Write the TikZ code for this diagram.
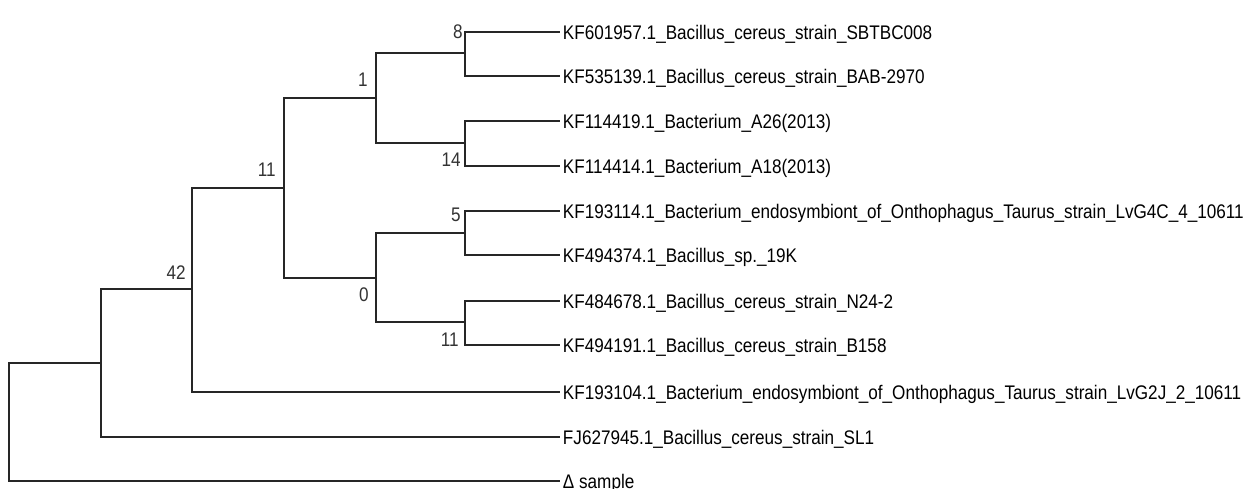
\documentclass[tikz,border=0pt]{standalone}
\usepackage{fontspec}
\newfontfamily\treefont[FakeStretch=0.87]{Liberation Sans}
\tikzset{
  branch/.style={line width=1.1pt, black!85, line join=miter},
  leaf/.style={anchor=west, inner xsep=1.5pt, inner ysep=0pt,
    text height=8pt, text depth=0pt,
    font=\treefont\fontsize{11.2}{13}\selectfont},
  boot/.style={anchor=east, inner sep=0pt, text=black!80,
    text height=8pt, text depth=0pt,
    font=\treefont\fontsize{11.2}{13}\selectfont}
}
\begin{document}
\begin{tikzpicture}[x=0.02cm,y=-0.02cm]
    \useasboundingbox (0,0) rectangle (1251,488);
    % leaves
    \node[leaf] (kf601957) at (560,32) {KF601957.1\_Bacillus\_cereus\_strain\_SBTBC008};
    \node[leaf] (kf535139) at (560,76) {KF535139.1\_Bacillus\_cereus\_strain\_BAB-2970};
    \node[leaf] (kf114419) at (560,121) {KF114419.1\_Bacterium\_A26(2013)};
    \node[leaf] (kf114414) at (560,166) {KF114414.1\_Bacterium\_A18(2013)};
    \node[leaf] (kf193114) at (560,211) {KF193114.1\_Bacterium\_endosymbiont\_of\_Onthophagus\_Taurus\_strain\_LvG4C\_4\_10611};
    \node[leaf] (kf494374) at (560,255) {KF494374.1\_Bacillus\_sp.\_19K};
    \node[leaf] (kf484678) at (560,301) {KF484678.1\_Bacillus\_cereus\_strain\_N24-2};
    \node[leaf] (kf494191) at (560,345) {KF494191.1\_Bacillus\_cereus\_strain\_B158};
    \node[leaf] (kf193104) at (560,392) {KF193104.1\_Bacterium\_endosymbiont\_of\_Onthophagus\_Taurus\_strain\_LvG2J\_2\_10611};
    \node[leaf] (fj627945) at (560,437) {FJ627945.1\_Bacillus\_cereus\_strain\_SL1};
    \node[leaf] (sample) at (560,481) {Δ sample};
    % internal nodes
    \coordinate (n8) at (465,53);
    \coordinate (n14) at (465,143);
    \coordinate (n1) at (376,98);
    \coordinate (n5) at (465,233);
    \coordinate (n11b) at (465,322);
    \coordinate (n0) at (376,278);
    \coordinate (n11a) at (284,188);
    \coordinate (n42) at (192,289);
    \coordinate (nsl1) at (101,363);
    \coordinate (root) at (9,423);
    % branches
    \draw[branch] (n8) |- (kf601957.west);
    \draw[branch] (n8) |- (kf535139.west);
    \draw[branch] (n14) |- (kf114419.west);
    \draw[branch] (n14) |- (kf114414.west);
    \draw[branch] (n1) |- (n8);
    \draw[branch] (n1) |- (n14);
    \draw[branch] (n5) |- (kf193114.west);
    \draw[branch] (n5) |- (kf494374.west);
    \draw[branch] (n11b) |- (kf484678.west);
    \draw[branch] (n11b) |- (kf494191.west);
    \draw[branch] (n0) |- (n5);
    \draw[branch] (n0) |- (n11b);
    \draw[branch] (n11a) |- (n1);
    \draw[branch] (n11a) |- (n0);
    \draw[branch] (n42) |- (n11a);
    \draw[branch] (n42) |- (kf193104.west);
    \draw[branch] (nsl1) |- (n42);
    \draw[branch] (nsl1) |- (fj627945.west);
    \draw[branch] (root) |- (nsl1);
    \draw[branch] (root) |- (sample.west);
    % bootstrap values
    \node[boot] (b8) at (463,31.5) {8};
    \node[boot] (b14) at (461,159.5) {14};
    \node[boot] (b1) at (368,79.5) {1};
    \node[boot] (b5) at (461,214) {5};
    \node[boot] (b11b) at (459,339.5) {11};
    \node[boot] (b0) at (369,294.5) {0};
    \node[boot] (b11a) at (276,169) {11};
    \node[boot] (b42) at (186,272) {42};
\end{tikzpicture}
\end{document}
